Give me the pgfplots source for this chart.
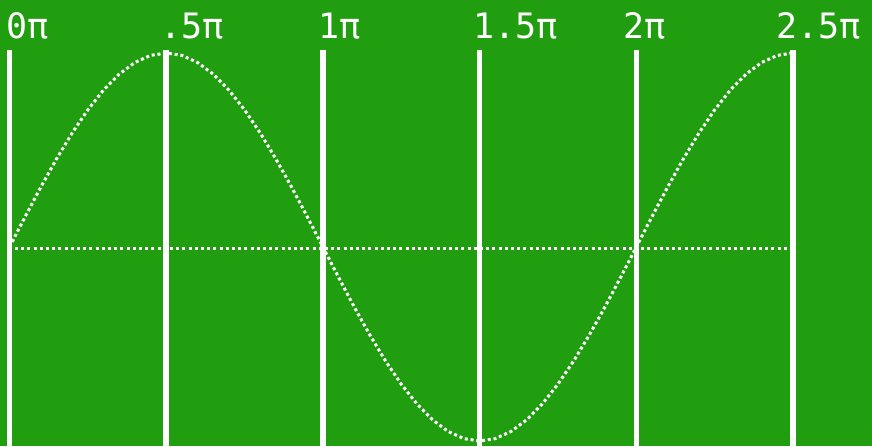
\documentclass[border=0pt]{standalone}
\usepackage{pgfplots}
\pgfplotsset{compat=1.18}
\usepackage{fontspec}
\newfontfamily\retro{DejaVu Sans Mono}
\definecolor{scrgreen}{RGB}{32,158,16}
\begin{document}
\begin{tikzpicture}
\begin{axis}[
  scale only axis, width=436pt, height=223pt,
  xmin=-0.0303, xmax=2.7521, ymin=-1.0258, ymax=1.2732,
  axis line style={draw=none}, ticks=none,
  axis background/.style={fill=scrgreen},
  clip=true,
]
% vertical grid lines
\addplot[white, line width=2.8pt] coordinates {(0,1.0155) (0,-1.1)};
\addplot[white, line width=2.8pt] coordinates {(0.5,1.0155) (0.5,-1.1)};
\addplot[white, line width=2.8pt] coordinates {(1,1.0155) (1,-1.1)};
\addplot[white, line width=2.8pt] coordinates {(1.5,1.0155) (1.5,-1.1)};
\addplot[white, line width=2.8pt] coordinates {(2,1.0155) (2,-1.1)};
\addplot[white, line width=2.8pt] coordinates {(2.5,1.0155) (2.5,-1.1)};
% dotted midline
\addplot[white, line width=1.5pt, dash pattern=on 1.5pt off 1.6pt] coordinates {(0.0175,-0.01) (2.49,-0.01)};
% sine curve
\addplot[white, line width=1.5pt, dash pattern=on 1.5pt off 1.4pt] coordinates {
(0,0) (0.05,0.1564) (0.10,0.3090) (0.15,0.4540) (0.20,0.5878) (0.25,0.7071)
(0.30,0.8090) (0.35,0.8910) (0.40,0.9511) (0.45,0.9877) (0.50,1)
(0.55,0.9877) (0.60,0.9511) (0.65,0.8910) (0.70,0.8090) (0.75,0.7071)
(0.80,0.5878) (0.85,0.4540) (0.90,0.3090) (0.95,0.1564) (1.00,0)
(1.05,-0.1564) (1.10,-0.3090) (1.15,-0.4540) (1.20,-0.5878) (1.25,-0.7071)
(1.30,-0.8090) (1.35,-0.8910) (1.40,-0.9511) (1.45,-0.9877) (1.50,-1)
(1.55,-0.9877) (1.60,-0.9511) (1.65,-0.8910) (1.70,-0.8090) (1.75,-0.7071)
(1.80,-0.5878) (1.85,-0.4540) (1.90,-0.3090) (1.95,-0.1564) (2.00,0)
(2.05,0.1564) (2.10,0.3090) (2.15,0.4540) (2.20,0.5878) (2.25,0.7071)
(2.30,0.8090) (2.35,0.8910) (2.40,0.9511) (2.45,0.9877) (2.50,1)
};
% labels
\begin{scope}[every node/.style={text=white, font=\retro\fontsize{17.5pt}{17.5pt}\selectfont, inner sep=0pt, anchor=base west}]
\node at (axis cs:-0.0112,1.0722) {0π};
\node at (axis cs:0.4802,1.0722) {.5π};
\node at (axis cs:0.9844,1.0722) {1π};
\node at (axis cs:1.4790,1.0722) {1.5π};
\node at (axis cs:1.9576,1.0722) {2π};
\node at (axis cs:2.4457,1.0722) {2.5π};
\end{scope}
\end{axis}
\end{tikzpicture}
\end{document}
